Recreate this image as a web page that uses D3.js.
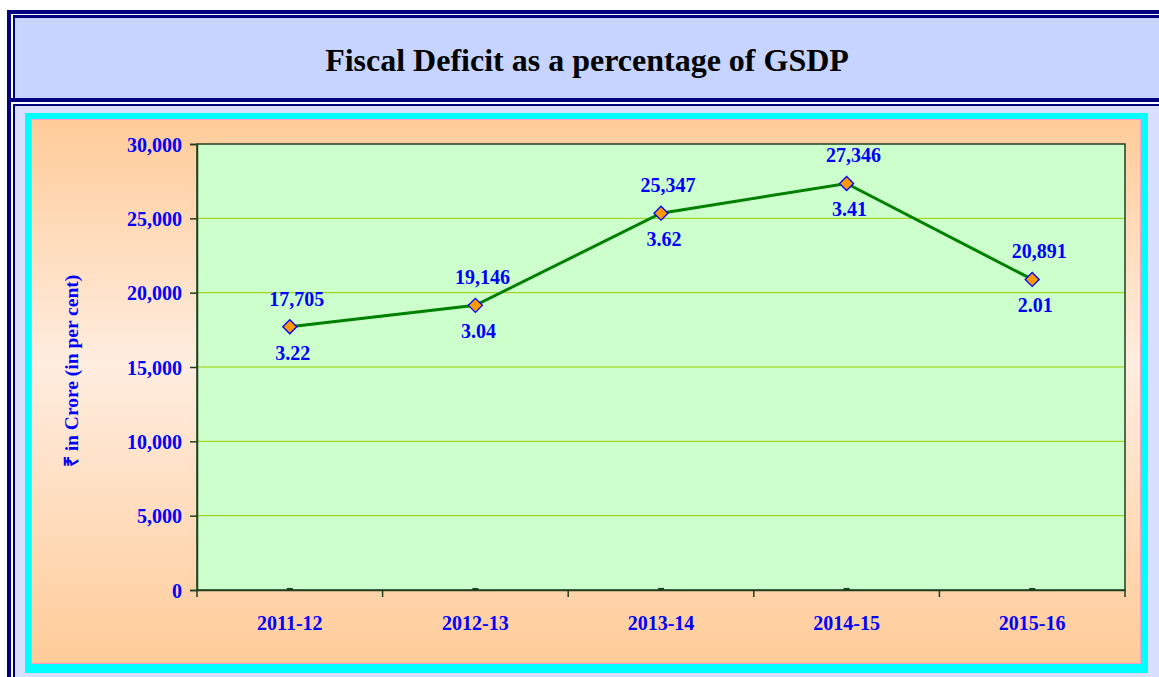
<!DOCTYPE html>
<html><head><meta charset="utf-8">
<script src="https://cdn.jsdelivr.net/npm/d3@7"></script>
<style>body{margin:0;background:#fff}svg{display:block}</style>
</head><body><svg id="c" width="1159" height="677"></svg>
<script>
const title = "Fiscal Deficit as a percentage of GSDP";
const categories = ["2011-12","2012-13","2013-14","2014-15","2015-16"];
const deficit = [17705,19146,25347,27346,20891];
const percentGSDP = [3.22,3.04,3.62,3.41,2.01];
const yTicks = [0,5000,10000,15000,20000,25000,30000];
const yAxisTitle = "\u20B9 in Crore (in per cent)";

const FONT = "'Times New Roman','Liberation Serif',serif";
const svg = d3.select("#c");
const defs = svg.append("defs");
const g1 = defs.append("linearGradient").attr("id","og").attr("x1",0).attr("y1",0).attr("x2",0).attr("y2",1);
g1.append("stop").attr("offset",0).attr("stop-color","#FFCC99");
g1.append("stop").attr("offset",0.45).attr("stop-color","#FFEDE0");
g1.append("stop").attr("offset",1).attr("stop-color","#FFCC99");

// frame
svg.append("rect").attr("x",0).attr("y",0).attr("width",1159).attr("height",677).attr("fill","#fff");
svg.append("rect").attr("x",7).attr("y",10).attr("width",1160).attr("height",680).attr("fill","#000080");
svg.append("rect").attr("x",11).attr("y",14).attr("width",1160).attr("height",680).attr("fill","#fff");
svg.append("rect").attr("x",13).attr("y",15).attr("width",1160).attr("height",83).attr("fill","#000080");
svg.append("rect").attr("x",15).attr("y",18).attr("width",1160).attr("height",80).attr("fill","#C6D4FF");
svg.append("rect").attr("x",11).attr("y",98).attr("width",1160).attr("height",4).attr("fill","#000080");
svg.append("rect").attr("x",13).attr("y",104).attr("width",1160).attr("height",600).attr("fill","#000080");
svg.append("rect").attr("x",15).attr("y",106).attr("width",1160).attr("height",600).attr("fill","#D9E0FF");

svg.append("text").attr("x",587).attr("y",71).attr("text-anchor","middle")
  .attr("font-family",FONT).attr("font-weight","bold").attr("font-size",32).attr("fill","#000").text(title);

// chart area
svg.append("rect").attr("x",25).attr("y",113).attr("width",1123).attr("height",560).attr("fill","#00FFFF");
svg.append("rect").attr("x",31).attr("y",119).attr("width",1110).attr("height",545).attr("fill","#FF99CC");
svg.append("rect").attr("x",32).attr("y",120).attr("width",1108).attr("height",543).attr("fill","url(#og)");

const x = d3.scaleBand().domain(categories).range([197,1125]);
const y = d3.scaleLinear().domain([0,30000]).range([590,144]);
const cx = c => x(c) + x.bandwidth()/2;

svg.append("rect").attr("x",197).attr("y",144).attr("width",928).attr("height",446)
  .attr("fill","#CCFFCC").attr("stroke","#1F3F1F").attr("stroke-width",1.5);

svg.append("g").selectAll("line").data(yTicks.filter(d=>d>0 && d<30000)).join("line")
  .attr("x1",198).attr("x2",1124).attr("y1",d=>y(d)).attr("y2",d=>y(d))
  .attr("stroke","#99CC00").attr("stroke-width",1);

const ya = svg.append("g").attr("transform","translate(197,0)")
  .call(d3.axisLeft(y).tickValues(yTicks).tickFormat(d3.format(",")).tickSize(7).tickPadding(8));
ya.select(".domain").attr("stroke","#1F3F1F").attr("stroke-width",1.5);
ya.selectAll(".tick line").attr("stroke","#1F3F1F").attr("stroke-width",1.5);
ya.selectAll(".tick text").attr("font-family",FONT).attr("font-weight","bold").attr("font-size",20)
  .attr("fill","#0000FF").attr("dy","0.35em");

const xa = svg.append("g").attr("transform","translate(0,590)")
  .call(d3.axisBottom(x).tickSize(0).tickPadding(26));
xa.select(".domain").attr("stroke","#1F3F1F").attr("stroke-width",1.5);
xa.selectAll(".tick text").attr("font-family",FONT).attr("font-weight","bold").attr("font-size",20).attr("fill","#0000FF");
const bounds = categories.map(c=>x(c)).concat([x(categories[categories.length-1])+x.bandwidth()]);
svg.append("g").selectAll("line").data(bounds).join("line")
  .attr("x1",d=>d).attr("x2",d=>d).attr("y1",590).attr("y2",597)
  .attr("stroke","#1F3F1F").attr("stroke-width",1.5);

svg.append("text").attr("transform","translate(78,371) rotate(-90)").attr("text-anchor","middle")
  .attr("font-family",FONT).attr("font-weight","bold").attr("font-size",19.5).attr("fill","#0000FF").text(yAxisTitle);

svg.append("g").selectAll("rect").data(percentGSDP).join("rect")
  .attr("x",(d,i)=>cx(categories[i])-3).attr("y",d=>y(d)-2).attr("width",6).attr("height",3)
  .attr("fill","#1F3F1F");

const line = d3.line().x((d,i)=>cx(categories[i])).y(d=>y(d));
svg.append("path").datum(deficit).attr("d",line).attr("fill","none")
  .attr("stroke","#008000").attr("stroke-width",3);

svg.append("g").selectAll("path").data(deficit).join("path")
  .attr("transform",(d,i)=>`translate(${cx(categories[i])},${y(d)})`)
  .attr("d","M0,-7L7,0L0,7L-7,0Z").attr("fill","#FF9900").attr("stroke","#0000FF").attr("stroke-width",1.3);

svg.append("g").selectAll("text").data(deficit).join("text")
  .attr("x",(d,i)=>cx(categories[i])+7).attr("y",d=>y(d)-21).attr("text-anchor","middle")
  .attr("font-family",FONT).attr("font-weight","bold").attr("font-size",20).attr("fill","#0000FF")
  .text(d=>d3.format(",")(d));
svg.append("g").selectAll("text").data(percentGSDP).join("text")
  .attr("x",(d,i)=>cx(categories[i])+3).attr("y",(d,i)=>y(deficit[i])+33).attr("text-anchor","middle")
  .attr("font-family",FONT).attr("font-weight","bold").attr("font-size",20).attr("fill","#0000FF")
  .text(d=>d.toFixed(2));
</script></body></html>
